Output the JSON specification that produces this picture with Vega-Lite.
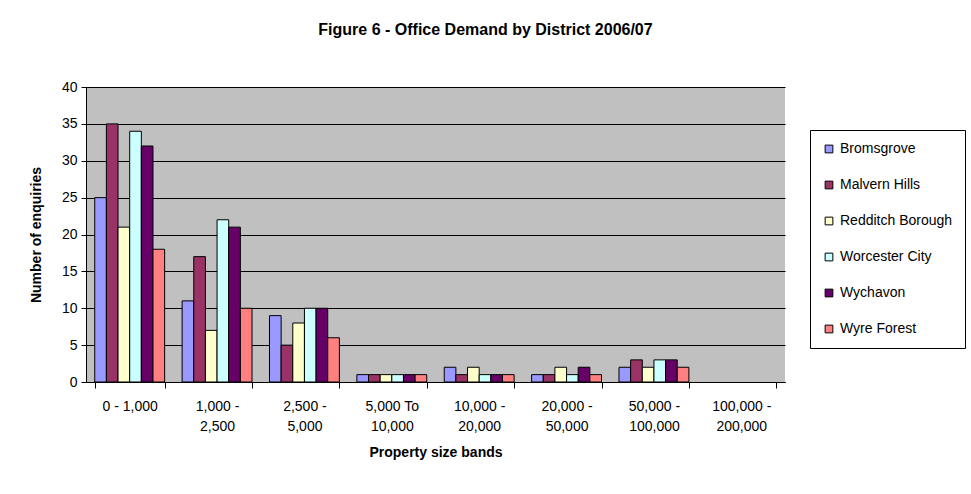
{
  "$schema": "https://vega.github.io/schema/vega-lite/v6.json",
  "width": 699,
  "height": 295,
  "autosize": {"type": "none"},
  "padding": {"left": 86, "top": 87, "right": 186, "bottom": 112},
  "background": "white",
  "title": {
    "text": "Figure 6 - Office Demand by District 2006/07",
    "font": "Liberation Sans",
    "fontSize": 16,
    "fontWeight": "bold",
    "color": "#000",
    "anchor": "middle",
    "frame": "group",
    "offset": 42,
    "dx": 50
  },
  "data": {
    "values": [
      {"band": "0 - 1,000", "district": "Bromsgrove", "n": 25},
      {"band": "0 - 1,000", "district": "Malvern Hills", "n": 35},
      {"band": "0 - 1,000", "district": "Redditch Borough", "n": 21},
      {"band": "0 - 1,000", "district": "Worcester City", "n": 34},
      {"band": "0 - 1,000", "district": "Wychavon", "n": 32},
      {"band": "0 - 1,000", "district": "Wyre Forest", "n": 18},
      {"band": "1,000 - 2,500", "district": "Bromsgrove", "n": 11},
      {"band": "1,000 - 2,500", "district": "Malvern Hills", "n": 17},
      {"band": "1,000 - 2,500", "district": "Redditch Borough", "n": 7},
      {"band": "1,000 - 2,500", "district": "Worcester City", "n": 22},
      {"band": "1,000 - 2,500", "district": "Wychavon", "n": 21},
      {"band": "1,000 - 2,500", "district": "Wyre Forest", "n": 10},
      {"band": "2,500 - 5,000", "district": "Bromsgrove", "n": 9},
      {"band": "2,500 - 5,000", "district": "Malvern Hills", "n": 5},
      {"band": "2,500 - 5,000", "district": "Redditch Borough", "n": 8},
      {"band": "2,500 - 5,000", "district": "Worcester City", "n": 10},
      {"band": "2,500 - 5,000", "district": "Wychavon", "n": 10},
      {"band": "2,500 - 5,000", "district": "Wyre Forest", "n": 6},
      {"band": "5,000 To 10,000", "district": "Bromsgrove", "n": 1},
      {"band": "5,000 To 10,000", "district": "Malvern Hills", "n": 1},
      {"band": "5,000 To 10,000", "district": "Redditch Borough", "n": 1},
      {"band": "5,000 To 10,000", "district": "Worcester City", "n": 1},
      {"band": "5,000 To 10,000", "district": "Wychavon", "n": 1},
      {"band": "5,000 To 10,000", "district": "Wyre Forest", "n": 1},
      {"band": "10,000 - 20,000", "district": "Bromsgrove", "n": 2},
      {"band": "10,000 - 20,000", "district": "Malvern Hills", "n": 1},
      {"band": "10,000 - 20,000", "district": "Redditch Borough", "n": 2},
      {"band": "10,000 - 20,000", "district": "Worcester City", "n": 1},
      {"band": "10,000 - 20,000", "district": "Wychavon", "n": 1},
      {"band": "10,000 - 20,000", "district": "Wyre Forest", "n": 1},
      {"band": "20,000 - 50,000", "district": "Bromsgrove", "n": 1},
      {"band": "20,000 - 50,000", "district": "Malvern Hills", "n": 1},
      {"band": "20,000 - 50,000", "district": "Redditch Borough", "n": 2},
      {"band": "20,000 - 50,000", "district": "Worcester City", "n": 1},
      {"band": "20,000 - 50,000", "district": "Wychavon", "n": 2},
      {"band": "20,000 - 50,000", "district": "Wyre Forest", "n": 1},
      {"band": "50,000 - 100,000", "district": "Bromsgrove", "n": 2},
      {"band": "50,000 - 100,000", "district": "Malvern Hills", "n": 3},
      {"band": "50,000 - 100,000", "district": "Redditch Borough", "n": 2},
      {"band": "50,000 - 100,000", "district": "Worcester City", "n": 3},
      {"band": "50,000 - 100,000", "district": "Wychavon", "n": 3},
      {"band": "50,000 - 100,000", "district": "Wyre Forest", "n": 2}
    ]
  },
  "mark": {"type": "bar", "stroke": "#000", "strokeWidth": 1},
  "encoding": {
    "x": {
      "field": "band",
      "type": "nominal",
      "sort": null,
      "scale": {
        "domain": ["0 - 1,000", "1,000 - 2,500", "2,500 - 5,000", "5,000 To 10,000", "10,000 - 20,000", "20,000 - 50,000", "50,000 - 100,000", "100,000 - 200,000"],
        "paddingInner": 0.2,
        "paddingOuter": 0.1
      },
      "axis": {
        "title": "Property size bands",
        "titleFont": "Liberation Sans",
        "titleFontSize": 14,
        "titleFontWeight": "bold",
        "titlePadding": 12,
        "labelFont": "Liberation Sans",
        "labelFontSize": 14,
        "labelColor": "#000",
        "labelAngle": 0,
        "labelPadding": 11,
        "labelLineHeight": 20,
        "labelExpr": "datum.label == '0 - 1,000' ? datum.label : [substring(datum.label, 0, lastindexof(datum.label, ' ')), substring(datum.label, lastindexof(datum.label, ' ') + 1)]",
        "tickBand": "extent",
        "tickColor": "#000",
        "tickSize": 6,
        "domainColor": "#000",
        "labelOverlap": false
      }
    },
    "xOffset": {
      "field": "district",
      "type": "nominal",
      "scale": {"paddingInner": 0, "paddingOuter": 0}
    },
    "y": {
      "field": "n",
      "type": "quantitative",
      "scale": {"domain": [0, 40]},
      "axis": {
        "title": "Number of enquiries",
        "titleFont": "Liberation Sans",
        "titleFontSize": 14,
        "titleFontWeight": "bold",
        "titlePadding": 18,
        "values": [0, 5, 10, 15, 20, 25, 30, 35, 40],
        "labelFont": "Liberation Sans",
        "labelFontSize": 14,
        "labelColor": "#000",
        "labelPadding": 4,
        "tickColor": "#000",
        "tickSize": 5,
        "domainColor": "#000",
        "grid": true,
        "gridColor": "#000",
        "gridWidth": 1
      }
    },
    "color": {
      "field": "district",
      "type": "nominal",
      "scale": {
        "domain": ["Bromsgrove", "Malvern Hills", "Redditch Borough", "Worcester City", "Wychavon", "Wyre Forest"],
        "range": ["#9999FF", "#993366", "#FFFFCC", "#CCFFFF", "#660066", "#FF8080"]
      },
      "legend": {
        "title": null,
        "orient": "none",
        "legendX": 724,
        "legendY": 43,
        "symbolType": "square",
        "symbolSize": 60,
        "symbolStrokeColor": "#000",
        "symbolStrokeWidth": 1,
        "labelFont": "Liberation Sans",
        "labelFontSize": 14,
        "labelColor": "#000",
        "labelOffset": 4,
        "rowPadding": 22,
        "padding": 12,
        "strokeColor": "#000",
        "fillColor": "white"
      }
    }
  },
  "config": {
    "view": {"fill": "#C0C0C0", "stroke": null},
    "axis": {"titleColor": "#000"}
  }
}
